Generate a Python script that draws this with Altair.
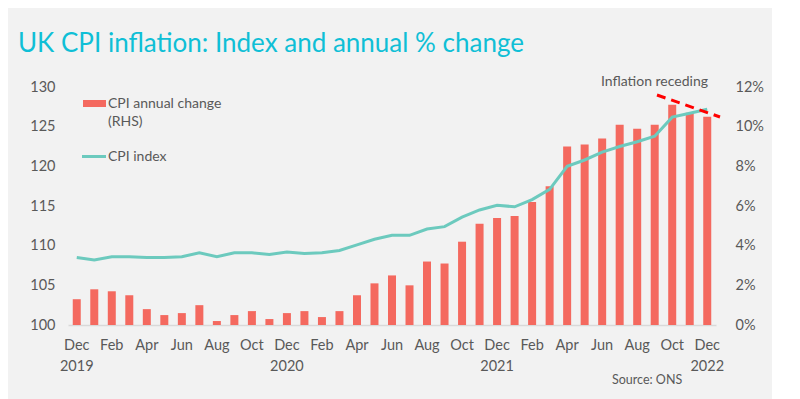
import altair as alt
import pandas as pd

months = ["Dec 2019", "Jan 2020", "Feb 2020", "Mar 2020", "Apr 2020", "May 2020", "Jun 2020",
          "Jul 2020", "Aug 2020", "Sep 2020", "Oct 2020", "Nov 2020", "Dec 2020",
          "Jan 2021", "Feb 2021", "Mar 2021", "Apr 2021", "May 2021", "Jun 2021",
          "Jul 2021", "Aug 2021", "Sep 2021", "Oct 2021", "Nov 2021", "Dec 2021",
          "Jan 2022", "Feb 2022", "Mar 2022", "Apr 2022", "May 2022", "Jun 2022",
          "Jul 2022", "Aug 2022", "Sep 2022", "Oct 2022", "Nov 2022", "Dec 2022"]

cpi_annual = [1.3, 1.8, 1.7, 1.5, 0.8, 0.5, 0.6, 1.0, 0.2, 0.5, 0.7, 0.3, 0.6,
              0.7, 0.4, 0.7, 1.5, 2.1, 2.5, 2.0, 3.2, 3.1, 4.2, 5.1, 5.4,
              5.5, 6.2, 7.0, 9.0, 9.1, 9.4, 10.1, 9.9, 10.1, 11.1, 10.7, 10.5]

cpi_index = [108.5, 108.2, 108.6, 108.6, 108.5, 108.5, 108.6, 109.1, 108.6, 109.1, 109.1, 108.9, 109.2,
             109.0, 109.1, 109.4, 110.1, 110.8, 111.3, 111.3, 112.1, 112.4, 113.6, 114.5, 115.1,
             114.9, 115.8, 117.1, 120.0, 120.8, 121.8, 122.5, 123.1, 123.8, 126.2, 126.7, 127.2]

tick_months = months[::2]
left_ticks = [100, 105, 110, 115, 120, 125, 130]
right_ticks = [0, 2, 4, 6, 8, 10, 12]

df = pd.DataFrame({"month": months, "annual": cpi_annual, "index": cpi_index})

FONT = "Lato"
GREY = "#595959"
BAR = "#f4695f"
TEAL = "#6ccabe"

x_enc = alt.X(
    "month:O", sort=months,
    scale=alt.Scale(paddingInner=0, paddingOuter=0),
    axis=alt.Axis(
        title=None, values=tick_months, labelAngle=0, ticks=False,
        domainColor="#d9d9d9", domainWidth=1.5,
        labelExpr="indexof(datum.value, 'Dec') == 0 ? split(datum.value, ' ') : split(datum.value, ' ')[0]",
        labelLineHeight=21, labelPadding=13, labelFontSize=14.5, labelColor=GREY, labelFont=FONT,
        labelBaseline="top",
    ),
)

bars = alt.Chart(df).mark_bar(size=8, color=BAR).encode(
    x=x_enc,
    y=alt.Y("annual:Q", scale=alt.Scale(domain=[0, 12], nice=False),
            axis=alt.Axis(orient="right", title=None, values=right_ticks, grid=False, ticks=False,
                          domain=False, labelExpr="datum.value + '%'", labelPadding=19,
                          labelFontSize=14.5, labelColor=GREY, labelFont=FONT)),
)

line = alt.Chart(df).mark_line(strokeWidth=3, color=TEAL).encode(
    x=alt.X("month:O", sort=months),
    y=alt.Y("index:Q", scale=alt.Scale(domain=[100, 130], nice=False),
            axis=alt.Axis(orient="left", title=None, values=left_ticks, grid=False, ticks=False,
                          domain=False, labelPadding=13, labelFontSize=14.5, labelColor=GREY,
                          labelFont=FONT)),
)

one = pd.DataFrame({"a": [0]})

def txt(text, x, y, size=14, color=GREY, align="left", baseline="middle"):
    return alt.Chart(one).mark_text(
        text=text, fontSize=size, color=color, font=FONT, align=align, baseline=baseline
    ).encode(x=alt.value(x), y=alt.value(y))

title = txt("UK CPI inflation: Index and annual % change", -50, -35, size=26,
            color="#0fbfd6", baseline="alphabetic")
leg_rect = alt.Chart(one).mark_rect(color=BAR).encode(
    x=alt.value(15), x2=alt.value(38), y=alt.value(13), y2=alt.value(20))
leg_t1 = txt("CPI annual change", 40, 16.5)
leg_t2 = txt("(RHS)", 40, 34.5)
leg_line = alt.Chart(one).mark_rule(color=TEAL, strokeWidth=3).encode(
    x=alt.value(14), x2=alt.value(38), y=alt.value(69.5))
leg_t3 = txt("CPI index", 40, 69.5)
receding = txt("Inflation receding", 640, -5, align="right")
dash = alt.Chart(one).mark_rule(color="#ff0000", strokeWidth=3, strokeDash=[9, 6]).encode(
    x=alt.value(589), y=alt.value(8), x2=alt.value(652), y2=alt.value(30))
source = txt("Source: ONS", 544, 293, size=12.5)

chart = alt.layer(
    bars, line, title, leg_rect, leg_t1, leg_t2, leg_line, leg_t3, receding, dash, source
).resolve_scale(y="independent").properties(
    width=648, height=238,
    autosize=alt.AutoSizeParams(type="none"),
    padding={"left": 60, "top": 79, "right": 56, "bottom": 74},
    background="#f2f2f2",
).configure_view(stroke=None)

chart.save("out.html", embed_options={"renderer": "svg", "actions": False})
